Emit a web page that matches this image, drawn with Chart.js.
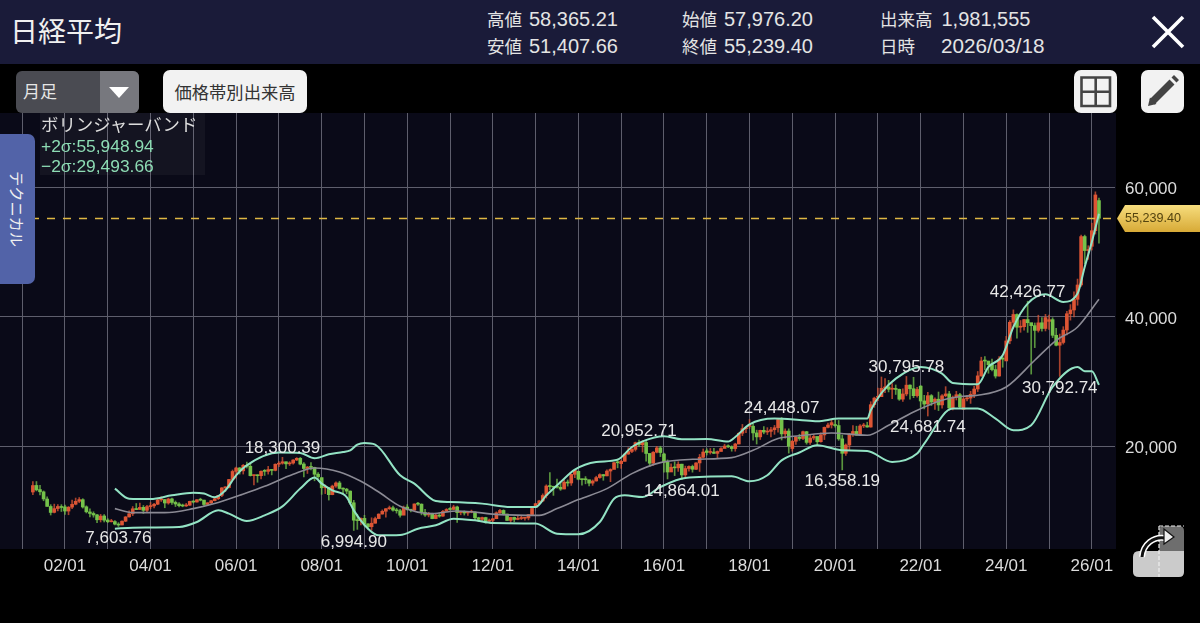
<!DOCTYPE html>
<html lang="ja"><head><meta charset="utf-8">
<script src="https://cdn.jsdelivr.net/npm/chart.js@4"></script>
<style>
html,body{margin:0;padding:0;background:#000;width:1200px;height:623px;overflow:hidden;font-family:"Liberation Sans","Noto Sans CJK JP",sans-serif}
#c{position:absolute;left:-1px;top:0;width:1201px;height:623px}
.a{position:absolute;white-space:nowrap}
#bar{left:0;top:0;width:1200px;height:64px;background:#1a1b39}
#title{left:10px;top:11px;font:28px/38px "Noto Sans CJK JP";color:#f0f0f0}
.st{font-size:20px;line-height:24px;color:#e4e4e4}
.st b{font:17.5px "Noto Sans CJK JP";margin-right:7px}
#sel{left:16px;top:71px;width:123px;height:42px;background:#4a4b52;border-radius:6px;overflow:hidden}
#sel i{position:absolute;left:84px;top:0;width:39px;height:42px;background:#77787e}
#sel i:after{content:"";position:absolute;left:9px;top:16px;border:10.5px solid transparent;border-top:11px solid #fff;border-bottom:0}
#sel span{position:absolute;left:7px;top:8px;font:17px/24px "Noto Sans CJK JP";color:#e6e6e6}
.btn{background:#f2f2f2;border-radius:7px;height:43px;top:70px}
#vol{left:163px;width:144px;font:17.3px/43px "Noto Sans CJK JP";color:#333;text-align:center}
#leg{left:40px;top:113px;width:165px;height:62px;background:rgba(255,255,255,.045)}
#leg div{position:absolute;left:1px;font-size:17.4px;line-height:20px;color:#8ddcb4}
#tab{left:0;top:134px;width:35px;height:150px;background:#5263a8;border-radius:0 7px 7px 0}
#tab span{position:absolute;left:8px;top:37px;writing-mode:vertical-rl;text-orientation:sideways;font:15.2px/19px "Noto Sans CJK JP";color:#f0f0f0}
svg{position:absolute}
</style></head><body>
<canvas id="c" width="1201" height="623"></canvas>
<div class="a" id="bar"></div>
<div class="a" id="title">日経平均</div>
<div class="a st" style="left:487px;top:6px"><b>高値</b>58,365.21</div>
<div class="a st" style="left:487px;top:33px"><b>安値</b>51,407.66</div>
<div class="a st" style="left:682px;top:6px"><b>始値</b>57,976.20</div>
<div class="a st" style="left:682px;top:33px"><b>終値</b>55,239.40</div>
<div class="a st" style="left:880px;top:6px"><b>出来高</b><span style="margin-left:2px">1,981,555</span></div>
<div class="a st" style="left:880px;top:33px"><b>日時</b><span style="margin-left:19px;font-size:20.7px">2026/03/18</span></div>
<svg style="left:1150px;top:14px" width="36" height="36"><path d="M3 3L33 33M33 3L3 33" stroke="#fff" stroke-width="3.6"/></svg>
<div class="a" id="sel"><span>月足</span><i></i></div>
<div class="a btn" id="vol">価格帯別出来高</div>
<div class="a btn" style="left:1074px;width:43px"><svg style="left:0;top:0" width="43" height="43"><path d="M7.5 7.5H36V36H7.5ZM21.7 7.5V36M7.5 21.7H36" fill="none" stroke="#444" stroke-width="2.6"/></svg></div>
<div class="a btn" style="left:1141px;width:43px"><svg style="left:0;top:0" width="43" height="43"><path d="M11 32L31 12" stroke="#444" stroke-width="7"/><path d="M7 36L9 27.5L15.5 34Z" fill="#444"/><path d="M33 10L35.5 7.5" stroke="#444" stroke-width="7"/></svg></div>
<div class="a" id="leg"><div style="top:2px;color:#ddd">ボリンジャーバンド</div><div style="top:23px">+2σ:55,948.94</div><div style="top:43px">−2σ:29,493.66</div></div>
<div class="a" id="tab"><span>テクニカル</span></div>
<svg style="left:1130px;top:522px" width="58" height="58">
<path d="M3 35Q3 29 9 29H54V50Q54 55 49 55H9Q3 55 3 50Z" fill="#cbcbcb"/>
<path d="M29 29V9Q29 4 34 4H49Q54 4 54 9V29Z" fill="#6e6e6e"/>
<path d="M29 4V55M29 4H54" stroke="#eee" stroke-width="1.2" stroke-dasharray="4 2" fill="none"/>
<path d="M12 35C13 22 24 14 35 16" fill="none" stroke="#fff" stroke-width="6"/>
<path d="M12 35C13 22 24 14 35 16" fill="none" stroke="#111" stroke-width="3"/>
<path d="M34 7L44 15L34 22Z" fill="#eee" stroke="#111" stroke-width="1.2"/>
</svg>
<script>
// months shown on the time axis
const axisYears=['00','01','02','03','04','05','06','07','08','09','10','11','12','13','14','15','16','17','18','19','20','21','22','23','24','25','26'];
const axisMonths=['01','02','03','04','05','06','07','08','09','10','11','12'];
const categories=axisYears.flatMap(y=>axisMonths.map(m=>y+'/'+m)).slice(6,319);
const candleStart='01/04';
const opens=[12937,13950,13310,12960,11850,10700,9790,10380,10700,
10631,9990,10600,11050,11500,11750,10650,9850,9620,9400,8650,9230,
8600,8340,8370,7980,7840,8430,9090,9570,10350,10240,10570,10110,
10680,10790,11050,11720,11770,11240,11870,11330,11090,10830,10780,10900,
11500,11390,11750,11680,11010,11280,11590,11900,12420,13580,13620,14880,
16120,16660,16210,17070,16910,15470,15510,15460,16150,16130,16410,16280,
17230,17390,17610,17290,17410,17880,18140,17260,16570,16790,16750,15690,
15155,13600,13610,12530,13860,14340,13490,13380,13080,11270,8580,8520,
8860,8000,7570,8110,8830,9530,9960,10360,10500,10140,10040,9350,
10610,10200,10130,11090,11060,9770,9390,9540,8830,9370,9210,9940,
10350,10240,10630,9760,9850,9700,9820,9840,8960,8710,8990,8440,
8560,8810,9730,10090,9530,8550,9010,8700,8840,8880,8930,9450,
10604,11140,11560,12400,13870,13780,13680,13670,13400,14460,14330,15670,
16147,14920,14850,14830,14310,14640,15170,15630,15430,16180,16420,17470,
17325,17680,18800,19210,19530,20570,20240,20590,18900,17400,19090,19750,
18818,17530,16030,16760,16670,17240,15580,16570,16890,16450,17430,18310,
19298,19050,19120,18910,19200,19660,20040,19930,19650,20360,22020,22730,
23073,23100,22070,21460,22470,22210,22310,22560,22870,24130,21930,22360,
19655,20780,21390,21210,22260,20610,21280,21530,20710,21760,22930,23300,
23319,23210,21150,18920,20200,21880,22300,21720,23150,23190,22980,26440,
27575,27670,28970,29180,28820,28870,28800,27290,28090,29460,28900,27830,
29301,27010,26530,27830,26850,27280,26400,27810,28100,25940,27590,27970,
25716,27330,27450,28050,28860,30890,33190,33180,32620,31860,30860,33490,
33193,36300,39170,40370,38410,38490,39590,39110,38650,37920,39090,38210,
39307,39580,37160,35620,36050,37970,40490,41070,42720,44940,52420,50260,
50908,53330,57976.20];
const highs=[14529,14556,13973,13100,12190,10980,11064,11000,10980,
10900,10690,11680,12000,12080,11900,10800,10350,9880,9480,9480,9450,
8810,8710,8530,8200,8500,9140,10040,10690,11160,11240,10850,10870,
11300,11200,11830,12195,11800,11990,11990,11550,11300,11070,11170,11520,
11570,11750,11980,11680,11280,11650,11950,12430,13620,13740,14890,16340,
16780,16720,17200,17560,17330,15550,15580,16190,16410,16900,16430,17290,
17620,18300.39,17610,17630,17950,18250,18280,17490,16900,17490,16780,15950,
15160,14030,13660,14000,14490,14600,13600,13500,13100,11650,9500,8950,
9330,8070,8950,9070,9560,10170,10360,10770,10770,10410,10250,10770,
10980,10250,11110,11340,11110,10240,9790,9660,9620,9700,10110,10370,
10520,10890,10770,9890,10020,9880,10140,9870,9040,9050,9040,8770,
8840,9870,10250,10190,9540,9030,9070,9220,9290,9030,9460,10430,
11190,11660,12650,14050,15940,13710,14950,14470,14820,14800,15730,16320,
16160,14930,15320,14790,14810,15380,15760,15650,16370,16530,17520,18030,
17860,18800,19780,20000,20660,20952.71,20850,20950,18770,19190,20010,20010,
18950,17900,17290,17610,17620,17240,16940,17000,17100,17490,18740,19590,
19620,19670,19670,19290,19820,20320,20220,20080,20480,22070,23380,23000,
24130,23490,22500,22500,23050,22880,22950,23230,24290,24448.07,22700,22700,
20930,21560,21860,22360,22310,21780,21820,21010,22100,22990,23590,24090,
24120,23990,21730,20370,22000,23190,23110,23340,23560,23730,26890,27600,
28980,30714,30485,30200,29680,29480,28850,28900,30795.78,29490,30670,29120,
29390,27880,28340,28000,27500,28390,28000,29220,28500,27780,28500,28190,
27520,27860,28500,29280,31560,33770,33850,33150,33480,32530,33850,33850,
36990,39430,41090,40470,39440,39640,42426.77,38690,39060,40260,39880,40400,
40290,39870,38220,37350,38490,40850,41900,43880,45850,52640,52640,51000,
54490,59330,58365.21];
const lows=[12508,13100,12500,11580,10700,9382,9700,10000,9924,
9470,9420,10370,10950,11280,10450,9700,9080,9040,8190,8300,8300,
8200,8300,7860,7603.76,7860,8350,9030,9290,10200,10210,9610,9800,
10360,10480,10970,11470,10500,11050,11000,10690,10650,10650,10700,10860,
11240,11380,11560,10770,10830,11140,11560,11770,12220,13000,13550,14730,
15060,15700,15710,16640,15400,14045,14440,14950,15500,15700,15580,16200,
16860,17230,16530,17030,17230,17780,17130,15260,15800,16350,14670,15030,
12570,12690,11690,12500,13650,13390,12670,12660,11000,6994.90,7160,7860,
7670,7210,7020,8120,8800,9520,9050,10230,9980,9670,9060,9760,
10140,9860,10120,10850,9400,9150,9090,8800,8800,9030,9150,9930,
10140,10200,8230,9410,9370,9320,9720,8620,8360,8340,8130,8160,
8350,8800,9460,9380,8540,8240,8330,8640,8670,8570,8620,9380,
10590,11010,11430,12000,13260,12410,13520,13190,13430,13850,13960,15150,
14810,14000,14200,13880,13960,14620,15060,14750,15420,14530,16720,16670,
16590,17670,18750,19030,19260,19990,19120,17710,16900,17050,18980,18410,
16020,14950,16130,15470,16120,14864.01,15100,16160,16000,16370,16110,18200,
18650,18800,18900,18220,19260,19810,19780,19240,19240,20380,21650,22100,
22760,20950,20350,21050,21930,21820,21460,21850,22170,20970,21240,18948.58,
19240,20310,20920,21040,20330,20290,21000,20110,20620,21040,22850,22820,
22950,20920,16358.19,18590,19450,21530,21710,21710,22880,22950,22950,26030,
27050,28330,28300,28400,27380,28010,27100,26950,27800,27290,27520,27600,
26040,25780,24681.74,26300,25690,25520,25900,27650,25620,25620,27160,25950,
25660,27030,26630,27500,28460,30790,31790,31290,31670,30540,30850,32220,
33290,35850,38270,36730,37620,37950,37610,31160,35250,37650,37800,37830,
38050,36800,35500,30792.74,35800,37230,39500,40000,41800,44700,48200,48890,
50340,52800,51407.66];
const closes=[13934,13262,12969,11860,10713,9774,10366,10697,10542,
9997,10587,11024,11492,11763,10621,9877,9619,9383,8640,9215,8578,
8339,8363,7972,7831,8424,9083,9563,10343,10219,10559,10100,10676,
10783,11041,11715,11761,11236,11858,11325,11081,10823,10771,10899,11488,
11387,11740,11668,11008,11276,11584,11899,12413,13574,13606,14872,16111,
16649,16205,17059,16906,15467,15505,15456,16140,16127,16399,16274,17225,
17383,17604,17287,17400,17875,18138,17248,16569,16785,16737,15680,15307,
13592,13603,12525,13849,14338,13481,13376,13072,11259,8576,8512,8859,
7994,7568,8109,8828,9522,9958,10356,10492,10133,10034,9345,10546,
10198,10126,11089,11057,9768,9382,9537,8824,9369,9202,9937,10228,
10237,10624,9755,9849,9693,9816,9833,8955,8700,8988,8434,8455,
8802,9723,10083,9520,8542,9006,8695,8839,8870,8928,9446,10395,
11138,11559,12397,13860,13774,13677,13668,13388,14455,14327,15661,16291,
14914,14841,14827,14304,14632,15162,15620,15424,16173,16413,17459,17450,
17674,18797,19206,19520,20563,20235,20585,18890,17388,19083,19747,19033,
17518,16026,16758,16666,17234,15575,16569,16887,16449,17425,18308,19114,
19041,19118,18909,19196,19650,20033,19925,19646,20356,22011,22724,22764,
23098,22068,21454,22467,22201,22304,22553,22865,24120,21920,22351,20014,
20773,21385,21205,22258,20601,21275,21521,20704,21755,22927,23293,23656,
23205,21142,18917,20193,21877,22288,21710,23139,23185,22977,26433,27444,
27663,28966,29178,28812,28860,28791,27283,28089,29452,28892,27821,28791,
27001,26526,27821,26847,27279,26393,27801,28091,25937,27587,27968,26094,
27327,27445,28041,28856,30887,33189,33172,32619,31857,30858,33486,33464,
36286,39166,40369,38405,38487,39583,39101,38647,37919,39081,38208,39894,
39572,37155,35617,36045,37965,40487,41069,42718,44932,52411,50253,50339,
53322,58850,55239.40];
// Bollinger band readings
const upperDates=['03/03','03/07','04/01','04/07','05/01','05/04','05/07','05/10','06/01','06/04','07/01','07/07','07/11','08/03','08/07','08/09','08/11','09/01','09/04','09/11','10/03','10/09','11/01','11/10','12/06','13/01','13/04','13/08','13/12','14/06','14/12','15/04','15/07','16/01','16/06','17/01','17/07','17/09','18/01','18/08','19/03','19/08','20/02','20/10','20/11','21/02','21/06','22/01','22/07','22/10','23/05','23/08','23/12','24/03','24/07','24/12','25/05','25/09','25/11','26/01','26/03'];
const upperBand=[13460,11900,11850,12420,12840,12690,12115,13200,15515,17060,19025,18960,18145,18760,19120,19380,20260,20510,20260,15516,14230,11540,11390,11140,10615,10615,12420,14480,16400,17570,17940,19890,20770,21550,21080,21130,20730,21440,23400,24280,24075,23860,24280,24280,25570,28240,30460,32260,31240,29790,29590,32260,34070,38440,42060,43500,42310,43600,47720,51590,55948.94];
const middleDates=['03/03','03/08','04/05','05/01','05/08','06/02','06/09','07/05','07/11','08/06','08/12','09/05','09/11','10/08','11/03','12/03','13/02','13/07','14/01','14/09','15/04','15/12','16/09','17/08','18/02','18/09','19/03','19/12','20/10','21/04','21/11','22/07','23/01','23/05','24/01','24/09','25/03','25/09','26/03'];
const middleBand=[10370,9750,9750,10370,11300,12420,13815,15670,16645,16030,14590,12930,10750,9590,10000,9440,9330,10370,11760,13460,15780,17480,17990,18250,19380,21190,21625,22060,21700,23250,25300,27110,27730,27880,29170,33300,36390,38440,42720];
const lowerDates=['03/03','03/08','04/09','05/02','05/08','05/11','06/04','06/09','07/02','07/07','07/11','08/01','08/04','08/08','08/10','09/02','09/05','09/11','10/04','10/09','11/02','11/08','12/01','13/01','13/07','14/01','14/07','14/11','15/02','15/07','15/12','16/07','17/08','18/01','18/06','18/10','19/03','19/08','20/03','20/10','21/05','21/12','22/02','22/10','23/05','23/10','24/03','24/08','25/02','25/09','25/11','26/01','26/03'];
const lowerBand=[7270,7430,7520,8300,10100,9590,8450,9330,10720,13460,15160,14230,13200,12160,10100,7270,6240,6290,7270,7790,8820,8560,8140,8050,6500,6400,8300,11910,12420,12160,13710,15100,15360,14590,15520,17830,19040,20150,19380,19280,17570,18870,20420,25830,25830,24280,22470,23250,29170,32260,31600,31600,29493.66];
// marked extremes
const markerDates=['03/04','07/02','08/10','15/06','16/06','18/10','20/03','21/09','22/03','24/07','25/04'];
const markerValues=[7603.76,18300.39,6994.90,20952.71,14864.01,24448.07,16358.19,30795.78,24681.74,42426.77,30792.74];
const markerSides=['low','high','low','high','low','high','low','high','low','high','low'];
const yTicks=[20000,40000,60000];
const lastPrice=55239.40;

const first=categories.indexOf(candleStart);
const candleCats=closes.map((_,i)=>categories[first+i]);
const RED='#dd5534',GREEN='#74c24a';
const upColors=closes.map((c,i)=>c>=opens[i]?RED:GREEN);
const wickColors=upColors.map(c=>c+'c0');
const pts=(dates,vals)=>dates.map((d,i)=>({x:d,y:vals[i]}));
const lineDs=(dates,vals,color,w)=>({type:'line',data:pts(dates,vals),borderColor:color,borderWidth:w,pointRadius:0,cubicInterpolationMode:'monotone',order:0,spanGaps:true});
const fmt=v=>v.toLocaleString('en-US',{minimumFractionDigits:2,maximumFractionDigits:2});

const decor={id:'decor',
 beforeDraw(ch){const a=ch.chartArea,c=ch.ctx;c.save();c.fillStyle='#0a0a18';c.fillRect(a.left,a.top,a.width+1,a.height);c.restore();},
 afterDatasetsDraw(ch){const a=ch.chartArea,c=ch.ctx,X=ch.scales.x,Y=ch.scales.y;c.save();
  const py=Math.round(Y.getPixelForValue(lastPrice))+0.5;
  c.strokeStyle='#dfb843';c.lineWidth=1.5;c.setLineDash([8,8]);c.beginPath();c.moveTo(a.left,py);c.lineTo(a.right,py);c.stroke();c.setLineDash([]);
  c.font='17px "Liberation Sans"';c.fillStyle='#e8e8e8';c.textAlign='center';c.textBaseline='middle';
  markerDates.forEach((d,i)=>{const x=X.getPixelForValue(d),y=Y.getPixelForValue(markerValues[i]);c.fillText(fmt(markerValues[i]),x,y+(markerSides[i]==='high'?-9:11.5));});
  const r=a.right+1,g=c.createLinearGradient(0,py-13,0,py+13);g.addColorStop(0,'#f6dc7c');g.addColorStop(1,'#d8ab38');
  c.fillStyle=g;c.beginPath();c.moveTo(r+1,py);c.lineTo(r+9,py-13.5);c.lineTo(1201,py-13.5);c.lineTo(1201,py+13.5);c.lineTo(r+9,py+13.5);c.closePath();c.fill();
  c.font='12.6px "Liberation Sans"';c.fillStyle='#54440f';c.textAlign='left';c.fillText(fmt(lastPrice),r+9,py+0.5);
  c.restore();}
};
const GRID='#5e5e6c';
new Chart(document.getElementById('c'),{type:'bar',
 data:{labels:categories,datasets:[
  lineDs(upperDates,upperBand,'#93e3c4',2),
  lineDs(middleDates,middleBand,'#8b8a94',1.6),
  lineDs(lowerDates,lowerBand,'#93e3c4',2),
  {label:'wick',data:candleCats.map((x,i)=>({x,y:[lows[i],highs[i]]})),backgroundColor:wickColors,barThickness:1,grouped:false,order:2},
  {label:'body',data:candleCats.map((x,i)=>({x,y:[opens[i],closes[i]]})),backgroundColor:upColors,barThickness:3,minBarLength:1,grouped:false,order:1}
 ]},
 options:{responsive:false,animation:false,devicePixelRatio:1,events:[],
  layout:{padding:{top:113,left:0,right:0,bottom:0}},
  plugins:{legend:{display:false},tooltip:{enabled:false}},
  scales:{
   x:{type:'category',offset:true,border:{display:false},
    grid:{color:GRID,offset:false,drawTicks:false,lineWidth:1},
    afterBuildTicks(s){s.ticks=s.ticks.filter(t=>categories[t.value].endsWith('/01'));},
    afterFit(s){s.height=74;},
    ticks:{autoSkip:false,maxRotation:0,padding:7,color:'#dcdcdc',font:{family:'"Liberation Sans"',size:17},
     callback(v){const l=this.getLabelForValue(v);return parseInt(l)%2===0?l:'';}}},
   y:{position:'right',min:4127,max:71515,border:{display:false},
    grid:{color:GRID,drawTicks:false,lineWidth:1},
    afterBuildTicks(s){s.ticks=yTicks.map(v=>({value:v}));},
    afterFit(s){s.width=85;},
    ticks:{padding:10,labelOffset:2,color:'#dcdcdc',font:{family:'"Liberation Sans"',size:17},callback:v=>v.toLocaleString('en-US')}}
  }},
 plugins:[decor]});
</script>
</body></html>
